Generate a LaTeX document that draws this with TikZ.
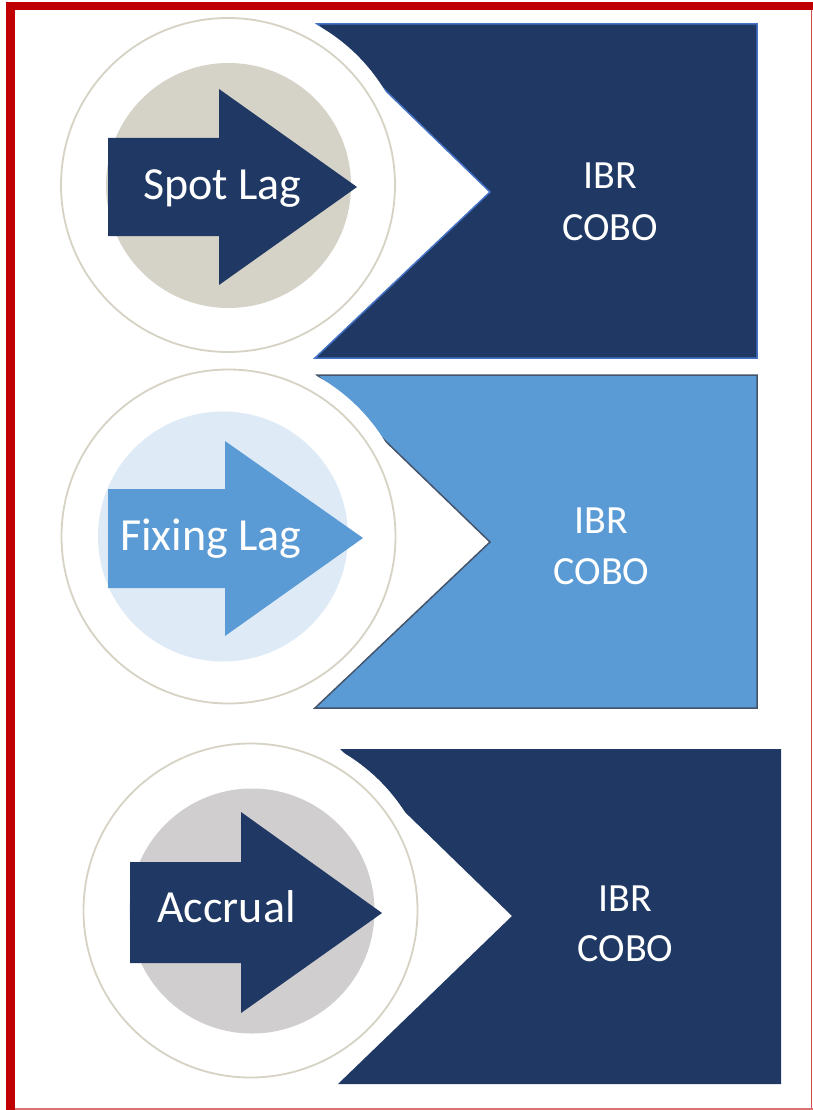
\documentclass[tikz,border=0pt]{standalone}
\usepackage{fontspec}
\newfontfamily\carlito{Carlito}
\definecolor{navy}{HTML}{203864}
\definecolor{midblue}{HTML}{5B9BD5}
\definecolor{paleblue}{HTML}{DEEBF7}
\definecolor{tanfill}{HTML}{D5D2C7}
\definecolor{greyfill}{HTML}{D0CECE}
\definecolor{ringcol}{HTML}{D6D2C4}
\definecolor{framered}{HTML}{C00000}
\definecolor{borderA}{HTML}{4472C4}
\definecolor{borderB}{HTML}{44546A}
\tikzset{
  ring/.style={draw=ringcol, line width=1.8pt},
  gapdisk/.style={fill=white},
  lbl/.style={text=white, font=\carlito\fontsize{46}{55}\selectfont, inner sep=0pt, anchor=base},
  bantxt/.style={text=white, font=\carlito\fontsize{40}{48}\selectfont, inner sep=0pt, anchor=base},
  banner/.style={line width=1.5pt, line join=miter},
}
\begin{document}
\begin{tikzpicture}[x=1pt, y=-1pt]
\useasboundingbox (0,0) rectangle (813,1110);
\fill[white] (0,0) rectangle (813,1110);

% ---------- panel 1 ----------
\filldraw[banner, fill=navy, draw=borderA] (317,24) -- (757,24) -- (757,358) -- (315,358) -- (490,192) -- cycle;
\fill[gapdisk] (228,185) circle[radius=183pt];
\draw[ring] (228,185) circle[radius=167pt];
\fill[tanfill] (228.5,185.5) circle[radius=122.5pt];
\fill[navy] (108,138) -- (219,138) -- (219,89) -- (357,187) -- (219,285) -- (219,236) -- (108,236) -- cycle;
\node[lbl] (spot) at (222.5,200) {Spot Lag};
\node[bantxt] (ibr1) at (610,189) {IBR};
\node[bantxt] (cobo1) at (610,240) {COBO};

% ---------- panel 2 ----------
\filldraw[banner, fill=midblue, draw=borderB] (317,375) -- (757,375) -- (757,708) -- (315,708) -- (490,542) -- cycle;
\fill[gapdisk] (228.5,536.5) circle[radius=183pt];
\draw[ring] (228.5,536.5) circle[radius=167pt];
\fill[paleblue] (223,536.5) circle[radius=125pt];
\fill[midblue] (108,489) -- (225,489) -- (225,441) -- (363,538) -- (225,636) -- (225,588) -- (108,588) -- cycle;
\node[lbl] (fixing) at (211,550) {Fixing Lag};
\node[bantxt] (ibr2) at (601.5,533) {IBR};
\node[bantxt] (cobo2) at (601.5,584) {COBO};

% ---------- panel 3 ----------
\fill[navy] (340,749) -- (781,749) -- (781,1084) -- (338,1084) -- (512,916) -- cycle;
\fill[gapdisk] (250.5,910.5) circle[radius=183pt];
\draw[ring] (250.5,910.5) circle[radius=167pt];
\fill[greyfill] (252,911) circle[radius=122.5pt];
\fill[navy] (130,862) -- (241,862) -- (241,812) -- (382,913) -- (241,1013) -- (241,963) -- (130,963) -- cycle;
\node[lbl] (accrual) at (226.5,922) {Accrual};
\node[bantxt] (ibr3) at (625.5,911) {IBR};
\node[bantxt] (cobo3) at (625.5,961) {COBO};

% ---------- frame ----------
\fill[framered] (6,2) rectangle (813,10);
\fill[framered] (6,2) rectangle (15,1110);
\draw[framered!70, line width=1.2pt] (811.5,10) -- (811.5,1109);
\draw[framered!55, line width=1.2pt] (15,1109) -- (813,1109);
\end{tikzpicture}
\end{document}
